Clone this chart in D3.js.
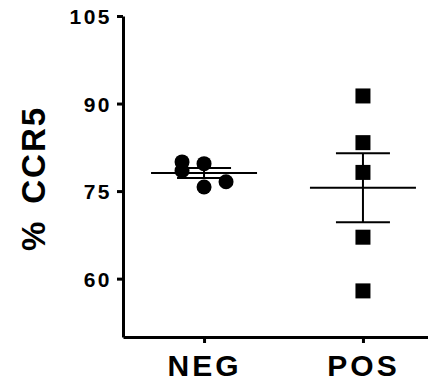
<!DOCTYPE html>
<html>
<head>
<meta charset="utf-8">
<script src="https://cdn.jsdelivr.net/npm/d3@7"></script>
<style>
  body { margin: 0; background: #fff; }
  text { font-family: "Liberation Sans", Arial, sans-serif; font-weight: bold; fill: #000; }
</style>
</head>
<body>
<div id="chart"></div>
<script>
// values
var groups = ["NEG", "POS"];
var negValues = [80.0, 78.5, 79.7, 75.7, 76.6];
var negSlots = [-1, -1, 0, 0, 1];      // side-by-side column of each dot
var posValues = [91.3, 83.3, 78.2, 67.1, 57.9];
var posSlots = [0, 0, 0, 0, 0];
var yTicks = [60, 75, 90, 105];
var yTitle = ["%", "CCR5"];

var width = 428, height = 385;
var margin = {top: 16, left: 123, bottom: 48};

var svg = d3.select("#chart").append("svg")
  .attr("width", width)
  .attr("height", height);

var y = d3.scaleLinear()
  .domain([50, 105])
  .range([height - margin.bottom, margin.top]);

var x = d3.scalePoint()
  .domain(groups)
  .range([margin.left, margin.left + 321])
  .padding(0.51);

var yAxis = svg.append("g")
  .attr("transform", "translate(" + margin.left + ",0)")
  .call(d3.axisLeft(y).tickValues(yTicks).tickSize(6).tickSizeOuter(0).tickPadding(5));
yAxis.select(".domain").attr("stroke-width", 3);
yAxis.selectAll(".tick line").attr("stroke-width", 3);
yAxis.selectAll(".tick text")
  .style("font-size", "21px")
  .style("letter-spacing", "2.5px")
  .attr("dy", "0.36em");

var xAxis = svg.append("g")
  .attr("transform", "translate(0," + y(50) + ")")
  .call(d3.axisBottom(x).tickSize(6).tickSizeOuter(0).tickPadding(12));
xAxis.select(".domain").attr("stroke-width", 3);
xAxis.selectAll(".tick line").attr("stroke-width", 3);
xAxis.selectAll(".tick text")
  .style("font-size", "30px")
  .style("letter-spacing", "3px")
  .attr("dy", "0.71em");

var title = svg.append("text")
  .attr("transform", "translate(45," + ((y(50) + y(105)) / 2 + 2) + ") rotate(-90)")
  .attr("text-anchor", "middle")
  .style("font-size", "33px")
  .style("letter-spacing", "2px");
title.selectAll("tspan")
  .data(yTitle)
  .enter()
  .append("tspan")
  .attr("dx", function(d, i) { return i ? 16 : 0; })
  .text(function(d) { return d; });

function stats(vals) {
  var m = d3.mean(vals);
  var sem = d3.deviation(vals) / Math.sqrt(vals.length);
  return {mean: m, lo: m - sem, hi: m + sem};
}

var colStep = 22;

// error bars (mean +/- SEM)
[negValues, posValues].forEach(function(vals, i) {
  var s = stats(vals);
  var cx = x(groups[i]);
  var g = svg.append("g").attr("stroke", "#000").attr("stroke-width", 2);
  g.append("line").attr("x1", cx - 53).attr("x2", cx + 53).attr("y1", y(s.mean)).attr("y2", y(s.mean));
  g.append("line").attr("x1", cx).attr("x2", cx).attr("y1", y(s.lo)).attr("y2", y(s.hi));
  g.append("line").attr("x1", cx - 27).attr("x2", cx + 27).attr("y1", y(s.lo)).attr("y2", y(s.lo));
  g.append("line").attr("x1", cx - 27).attr("x2", cx + 27).attr("y1", y(s.hi)).attr("y2", y(s.hi));
});

svg.selectAll("circle.neg")
  .data(negValues)
  .enter()
  .append("circle")
  .attr("class", "neg")
  .attr("cx", function(d, i) { return x("NEG") + negSlots[i] * colStep; })
  .attr("cy", function(d) { return y(d); })
  .attr("r", 7.5)
  .attr("fill", "#000");

svg.selectAll("rect.pos")
  .data(posValues)
  .enter()
  .append("rect")
  .attr("class", "pos")
  .attr("x", function(d, i) { return x("POS") + posSlots[i] * colStep - 7.5; })
  .attr("y", function(d) { return y(d) - 7.5; })
  .attr("width", 15)
  .attr("height", 15)
  .attr("fill", "#000");
</script>
</body>
</html>
